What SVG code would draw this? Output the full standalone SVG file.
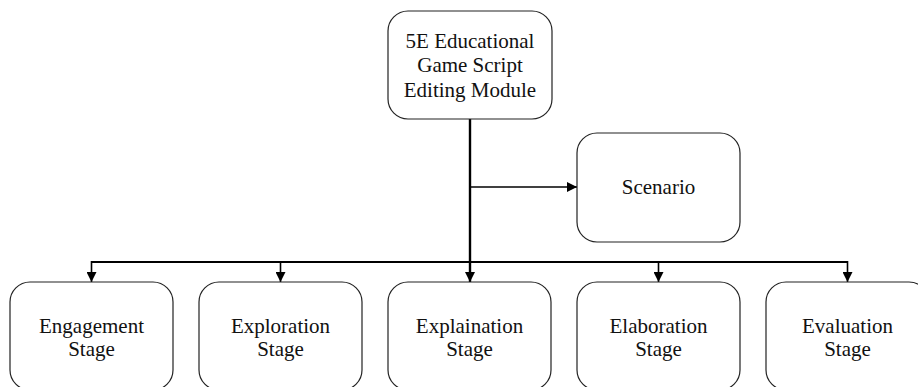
<svg xmlns="http://www.w3.org/2000/svg" width="918" height="387" viewBox="0 0 918 387">
<style>
.box{fill:#fff;stroke:#222;stroke-width:1.2}
.t{font-family:"Liberation Serif","Times New Roman",serif;font-size:21px;fill:#111;text-anchor:middle}
.ln{stroke:#000;fill:none}
</style>
<defs>
<marker id="ah" viewBox="0 0 10 10" refX="10" refY="5" markerWidth="10" markerHeight="10" markerUnits="userSpaceOnUse" orient="auto">
<path d="M0,0 L10,5 L0,10 Z" fill="#000"/>
</marker>
</defs>
<g id="connectors">
<line class="ln" x1="470" y1="119" x2="470" y2="262" stroke-width="2.4"/>
<line class="ln" x1="470" y1="187" x2="577" y2="187" stroke-width="1.4" marker-end="url(#ah)"/>
<line class="ln" x1="91" y1="262" x2="848" y2="262" stroke-width="2"/>
<line class="ln" x1="91.5" y1="261" x2="91.5" y2="282" stroke-width="1.6" marker-end="url(#ah)"/>
<line class="ln" x1="280.5" y1="261" x2="280.5" y2="282" stroke-width="1.6" marker-end="url(#ah)"/>
<line class="ln" x1="470" y1="261" x2="470" y2="282" stroke-width="2.4" marker-end="url(#ah)"/>
<line class="ln" x1="658.5" y1="261" x2="658.5" y2="282" stroke-width="1.6" marker-end="url(#ah)"/>
<line class="ln" x1="847.5" y1="261" x2="847.5" y2="282" stroke-width="1.6" marker-end="url(#ah)"/>
</g>
<g id="module">
<rect class="box" x="388" y="11" width="164" height="108" rx="20"/>
<text class="t" x="470" y="48">5E Educational</text>
<text class="t" x="470" y="72">Game Script</text>
<text class="t" x="470" y="97">Editing Module</text>
</g>
<g id="scenario">
<rect class="box" x="577" y="133" width="163" height="109" rx="20"/>
<text class="t" x="658.5" y="194">Scenario</text>
</g>
<g id="engagement">
<rect class="box" x="10" y="282" width="163" height="108" rx="20"/>
<text class="t" x="91.5" y="333">Engagement</text>
<text class="t" x="91.5" y="356">Stage</text>
</g>
<g id="exploration">
<rect class="box" x="199" y="282" width="163" height="108" rx="20"/>
<text class="t" x="280.5" y="333">Exploration</text>
<text class="t" x="280.5" y="356">Stage</text>
</g>
<g id="explaination">
<rect class="box" x="388" y="282" width="163" height="108" rx="20"/>
<text class="t" x="469.5" y="333">Explaination</text>
<text class="t" x="469.5" y="356">Stage</text>
</g>
<g id="elaboration">
<rect class="box" x="577" y="282" width="163" height="108" rx="20"/>
<text class="t" x="658.5" y="333">Elaboration</text>
<text class="t" x="658.5" y="356">Stage</text>
</g>
<g id="evaluation">
<rect class="box" x="766" y="282" width="163" height="108" rx="20"/>
<text class="t" x="847.5" y="333">Evaluation</text>
<text class="t" x="847.5" y="356">Stage</text>
</g>
</svg>
